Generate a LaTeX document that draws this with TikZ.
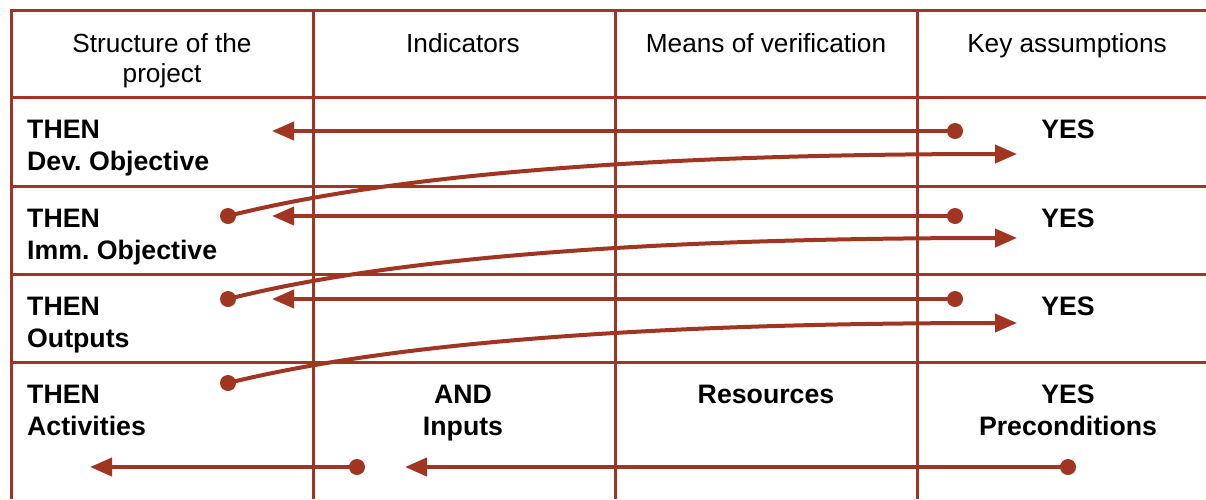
\documentclass[tikz,border=0pt]{standalone}
\usepackage{fontspec}
\setmainfont{Liberation Sans}
\usetikzlibrary{arrows.meta}
\definecolor{rust}{RGB}{160,54,33}
\frenchspacing
\begin{document}
\begin{tikzpicture}[x=1pt,y=-1pt,
  grid/.style={draw=rust,line width=3pt},
  conn/.style={draw=rust,line width=4pt,-{Triangle[length=22pt,width=18pt]}},
  dot/.style={circle,fill=rust,minimum size=16pt,inner sep=0pt},
  head/.style={anchor=base,inner sep=0pt,font=\fontsize{26.2}{31}\selectfont,text=black},
  bl/.style={anchor=base west,inner sep=0pt,font=\fontsize{26.7}{31}\selectfont\bfseries,text=black},
  bc/.style={anchor=base,inner sep=0pt,font=\fontsize{26.7}{31}\selectfont\bfseries,text=black}]
\useasboundingbox (0,0) rectangle (1206,499);
\fill[white] (0,0) rectangle (1206,499);

% grid
\draw[grid] (1206,10) -- (11,10) -- (11,499);
\foreach \yy in {97,186,274,362} \draw[grid] (11,\yy) -- (1206,\yy);
\foreach \xx in {313,615,917} \draw[grid] (\xx,10) -- (\xx,499);

% header
\node[head] (h1a) at (162,52) {Structure of the};
\node[head] (h1b) at (162,82) {project};
\node[head] (h2) at (463,52) {Indicators};
\node[head] (h3) at (766,52) {Means of verification};
\node[head] (h4) at (1067,52) {Key assumptions};

% left column
\node[bl] (then1) at (27,138) {THEN};
\node[bl] (lab1) at (27,170) {Dev. Objective};
\node[bl] (then2) at (27,227) {THEN};
\node[bl] (lab2) at (27,259) {Imm. Objective};
\node[bl] (then3) at (27,315) {THEN};
\node[bl] (lab3) at (27,347) {Outputs};
\node[bl] (then4) at (27,403) {THEN};
\node[bl] (lab4) at (27,435) {Activities};

% other cells
\node[bc] (and) at (463,403) {AND};
\node[bc] (inputs) at (463,435) {Inputs};
\node[bc] (res) at (766,403) {Resources};
\node[bc] (yes1) at (1068,138) {YES};
\node[bc] (yes2) at (1068,227) {YES};
\node[bc] (yes3) at (1068,315) {YES};
\node[bc] (yes4) at (1068,403) {YES};
\node[bc] (pre) at (1068,435) {Preconditions};

% dots
\node[dot] (r1) at (955,131) {};
\node[dot] (r2) at (955,216) {};
\node[dot] (r3) at (955,299) {};
\node[dot] (l2) at (228,216) {};
\node[dot] (l3) at (228,299) {};
\node[dot] (l4) at (228,383) {};
\node[dot] (b1) at (1068,467) {};
\node[dot] (b2) at (357,467) {};

% arrow tips
\coordinate (t1) at (272,131);
\coordinate (t2) at (272,216);
\coordinate (t3) at (272,299);
\coordinate (c1) at (1017,154);
\coordinate (c2) at (1017,238);
\coordinate (c3) at (1017,323);
\coordinate (tb1) at (405,467);
\coordinate (tb2) at (90,467);

% connectors
\draw[conn] (r1.center) -- (t1);
\draw[conn] (r2.center) -- (t2);
\draw[conn] (r3.center) -- (t3);
\draw[conn] (l2.center) .. controls (398,173) and (664,154) .. (c1);
\draw[conn] (l3.center) .. controls (398,256) and (664,238) .. (c2);
\draw[conn] (l4.center) .. controls (398,341) and (664,323) .. (c3);
\draw[conn] (b1.center) -- (tb1);
\draw[conn] (b2.center) -- (tb2);
\end{tikzpicture}
\end{document}
